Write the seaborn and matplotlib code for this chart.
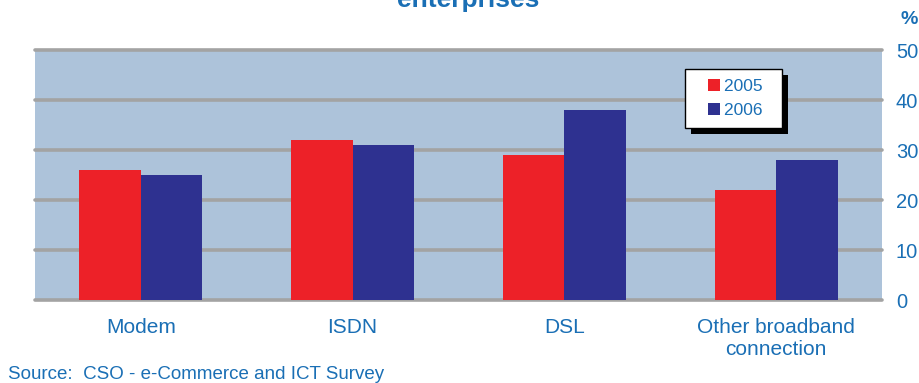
import matplotlib
matplotlib.use("Agg")
import matplotlib.pyplot as plt
from matplotlib.lines import Line2D
from matplotlib.patches import Rectangle
import pandas as pd
import seaborn as sns

categories = ["Modem", "ISDN", "DSL", "Other broadband\nconnection"]
years = ["2005", "2006"]
values_2005 = [26, 32, 29, 22]
values_2006 = [25, 31, 38, 28]
y_ticks = [0, 10, 20, 30, 40, 50]

BLUE_TEXT = "#1a6fb5"
BG = "#adc3da"
GRID = "#a3a3a3"
BAR_COLORS = ["#ed2128", "#2e3190"]

df = pd.DataFrame({
    "category": categories * 2,
    "year": [years[0]] * len(categories) + [years[1]] * len(categories),
    "value": values_2005 + values_2006,
})

sns.set_theme(style="white")
plt.rcParams["font.family"] = ["Liberation Sans", "DejaVu Sans"]

fig = plt.figure(figsize=(9.2, 3.83), dpi=100)
ax = fig.add_axes([35 / 920, 83 / 383, 847 / 920, 250 / 383])
ax.set_facecolor(BG)

sns.barplot(data=df, x="category", y="value", hue="year", order=categories,
            hue_order=years, palette=BAR_COLORS, width=0.58, gap=0,
            saturation=1, linewidth=0, ax=ax, zorder=3, legend=False)

ax.set_ylim(0, 50)
ax.set_xlim(-0.5, 3.5)
ax.set_yticks(y_ticks)
for y in y_ticks:
    ax.axhline(y, color=GRID, lw=2.6, zorder=2, clip_on=False)

ax.yaxis.tick_right()
ax.tick_params(axis="y", length=0, pad=10, labelsize=14.5, labelcolor=BLUE_TEXT)
ax.tick_params(axis="x", length=0, pad=13, labelsize=15, labelcolor=BLUE_TEXT)
ax.set_xlabel("")
ax.set_ylabel("")
for s in ax.spines.values():
    s.set_visible(False)

handles = [Line2D([], [], ls="none", marker="s", markersize=8.6,
                  markerfacecolor=c, markeredgewidth=0) for c in BAR_COLORS]
leg = ax.legend(handles, [y + "  " for y in years], loc="upper left",
                bbox_to_anchor=(0.767, 0.924), frameon=True, fancybox=False,
                fontsize=12.5, handlelength=2.3, handletextpad=-0.6,
                borderpad=0.55, labelspacing=0.55, borderaxespad=0,
                labelcolor=BLUE_TEXT)
leg.get_frame().set_edgecolor("black")
leg.get_frame().set_linewidth(1.0)
leg.get_frame().set_facecolor("white")
leg.get_frame().set_alpha(1)
leg.set_zorder(6)

fig.canvas.draw()
bb = leg.get_window_extent().transformed(fig.transFigure.inverted())
off_x, off_y = 6 / 920, 6 / 383
ax.add_patch(Rectangle((bb.x0 + off_x, bb.y0 - off_y), bb.width, bb.height,
                       transform=fig.transFigure, facecolor="black",
                       edgecolor="none", zorder=5, clip_on=False))

fig.text(468 / 920, 1 - 7 / 383, "enterprises", ha="center", va="baseline",
         fontsize=19, fontweight="bold", color=BLUE_TEXT)
fig.text(909 / 920, 1 - 24 / 383, "%", ha="center", va="baseline",
         fontsize=14, fontweight="bold", color=BLUE_TEXT)
fig.text(8 / 920, 1 - 379 / 383, "Source:  CSO - e-Commerce and ICT Survey",
         ha="left", va="baseline", fontsize=13.5, color=BLUE_TEXT)

fig.savefig("out.png", dpi=100)
